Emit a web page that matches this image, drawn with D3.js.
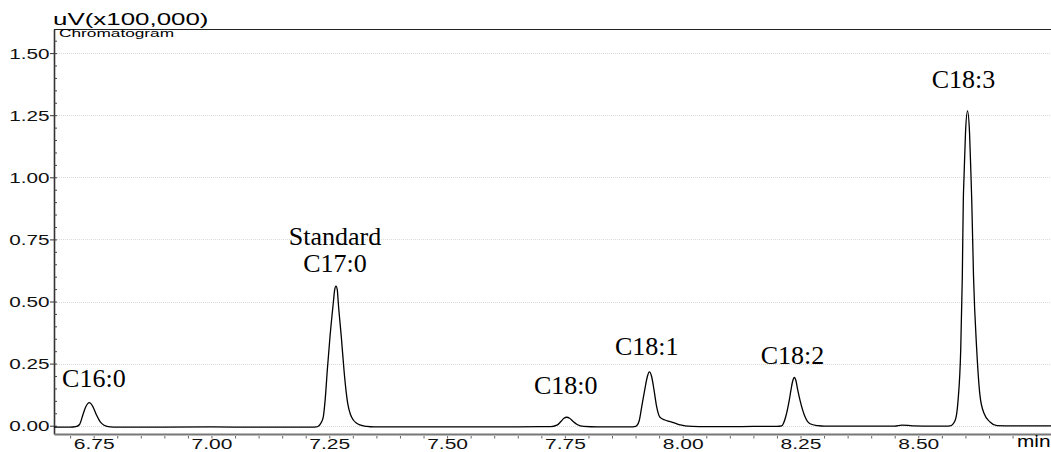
<!DOCTYPE html>
<html>
<head>
<meta charset="utf-8">
<title>Chromatogram</title>
<script src="https://d3js.org/d3.v7.min.js"></script>
<style>
  body { margin: 0; background: #fff; }
  svg { display: block; }
</style>
</head>
<body>
<svg id="chart" width="1051" height="452"></svg>
<script>
// retention time (min) and detector signal (uV x100,000)
var retTime = [
  6.666, 6.690, 6.700,
  6.712, 6.720, 6.727, 6.733, 6.7407, 6.748, 6.756, 6.764, 6.772, 6.785,
  6.800, 6.900, 7.000, 7.100, 7.200,
  7.215, 7.222, 7.2267, 7.232, 7.2373, 7.2415, 7.2458, 7.2515, 7.2585, 7.2615, 7.2642, 7.267, 7.2691,
  7.2755, 7.2812, 7.285, 7.289, 7.295, 7.301, 7.308, 7.315, 7.330, 7.345,
  7.400, 7.500, 7.600, 7.700,
  7.720, 7.733, 7.742, 7.748, 7.754, 7.760, 7.767, 7.776, 7.790,
  7.820, 7.860, 7.890,
  7.8975, 7.9024, 7.908, 7.913, 7.9194, 7.9249, 7.9291, 7.9342, 7.9391, 7.9448, 7.9518, 7.9624, 7.972,
  7.9836, 7.995, 8.005, 8.020,
  8.050, 8.100, 8.150, 8.200,
  8.2101, 8.214, 8.2186, 8.2262, 8.2298, 8.2335, 8.2368, 8.2405, 8.2441, 8.2489, 8.2596, 8.2702, 8.287, 8.300,
  8.350, 8.400, 8.450, 8.465, 8.478, 8.490, 8.530, 8.560,
  8.5673, 8.5779, 8.5843, 8.5900, 8.5934, 8.5955, 8.5970, 8.6002, 8.6044, 8.6087, 8.6119, 8.6134,
  8.6172, 8.6240, 8.6310, 8.6394, 8.6522, 8.6670, 8.700, 8.740, 8.7816
];
var signal = [
  -0.006, -0.006, -0.006,
  -0.004, 0.005, 0.043, 0.075, 0.0926, 0.078, 0.043, 0.015, 0.002, -0.005,
  -0.006, -0.006, -0.005, -0.006, -0.006,
  -0.006, -0.005, -0.002, 0.010, 0.036, 0.110, 0.224, 0.358, 0.494, 0.548, 0.562, 0.547, 0.494,
  0.358, 0.224, 0.150, 0.091, 0.045, 0.023, 0.010, 0.003, -0.003, -0.005,
  -0.005, -0.005, -0.005, -0.004,
  -0.004, 0.002, 0.018, 0.030, 0.034, 0.030, 0.018, 0.005, -0.003,
  -0.005, -0.005, -0.005,
  -0.004, 0.000, 0.022, 0.076, 0.144, 0.197, 0.217, 0.197, 0.144, 0.076, 0.034, 0.023, 0.017,
  0.010, 0.003, -0.001, -0.003,
  -0.004, -0.004, -0.003, -0.003,
  -0.001, 0.010, 0.036, 0.103, 0.144, 0.180, 0.194, 0.180, 0.144, 0.103, 0.036, 0.008, 0.000, -0.002,
  -0.002, -0.002, -0.002, 0.002, 0.001, -0.001, -0.002, -0.002,
  -0.001, 0.020, 0.100, 0.305, 0.600, 0.908, 1.000, 1.180, 1.267, 1.180, 1.000, 0.908,
  0.600, 0.305, 0.120, 0.050, 0.015, 0.000, -0.001, -0.001, -0.001
];

var xTickValues = [6.75, 7.00, 7.25, 7.50, 7.75, 8.00, 8.25, 8.50];
var yTickValues = [0.00, 0.25, 0.50, 0.75, 1.00, 1.25, 1.50];

var peakNames = ["C16:0", "C17:0", "C18:0", "C18:1", "C18:2", "C18:3"];
var peakTimes = [6.7407, 7.2642, 7.752, 7.9291, 8.2368, 8.6044];
var peakHeights = [0.0926, 0.562, 0.034, 0.217, 0.194, 1.267];

// label nudges (px) relative to each peak apex
var labelNudge = [[4.6, -16], [-1, -14], [0, -23], [-2.6, -16.7], [-1.8, -13.5], [-4, -22.7]];

var plotLeft = 54, plotRight = 1051, plotTop = 29, plotBottom = 434;

var svg = d3.select("#chart");

var x = d3.scaleLinear().domain([6.6658, 8.7816]).range([plotLeft, plotRight]);
var y = d3.scaleLinear().domain([-0.0334, 1.597]).range([plotBottom, plotTop]);

var sans = "'Liberation Sans', Arial, sans-serif";
var serif = "'Liberation Serif', 'Times New Roman', serif";

// grid lines
svg.append("g")
  .selectAll("line")
  .data(yTickValues)
  .enter().append("line")
  .attr("x1", plotLeft + 1).attr("x2", plotRight)
  .attr("y1", function(d) { return Math.round(y(d)) + 0.5; })
  .attr("y2", function(d) { return Math.round(y(d)) + 0.5; })
  .attr("stroke", "#dadada")
  .attr("stroke-dasharray", "1,1");

// top frame
svg.append("line")
  .attr("x1", plotLeft).attr("x2", plotRight)
  .attr("y1", plotTop + 0.5).attr("y2", plotTop + 0.5)
  .attr("stroke", "#222");

// y axis: labelled major ticks outside, minor ticks inside
var yAxis = svg.append("g")
  .attr("transform", "translate(" + plotLeft + ",0)")
  .call(d3.axisLeft(y).tickValues(yTickValues).tickSize(4).tickSizeOuter(0)
    .tickFormat(d3.format(".2f")));
yAxis.select(".domain").attr("stroke", "#333").attr("stroke-width", 1.6);
yAxis.selectAll(".tick line").attr("stroke", "#333");
yAxis.selectAll("text")
  .attr("font-family", sans).attr("font-size", 14).attr("fill", "#111")
  .attr("transform", "scale(1.48,1)")
  .attr("x", -4.5 / 1.48).attr("dy", "0.36em");

svg.append("g")
  .attr("transform", "translate(" + plotLeft + ",0)")
  .call(d3.axisRight(y).tickValues(d3.range(0, 32).map(function(i) { return i * 0.05; }))
    .tickSize(3).tickSizeOuter(0).tickFormat(""))
  .call(function(g) { g.select(".domain").remove(); })
  .selectAll("line").attr("stroke", "#444");

// x axis
var xAxis = svg.append("g")
  .attr("transform", "translate(0," + plotBottom + ")")
  .call(d3.axisBottom(x).tickValues(xTickValues).tickSize(0).tickSizeOuter(0)
    .tickFormat(d3.format(".2f")));
xAxis.select(".domain").attr("stroke", "#777").attr("stroke-width", 1.8);
xAxis.selectAll("text")
  .attr("font-family", sans).attr("font-size", 14.5).attr("fill", "#111")
  .attr("transform", "scale(1.45,1)")
  .attr("y", 15).attr("dy", 0);

svg.append("g")
  .attr("transform", "translate(0," + (plotBottom + 2) + ")")
  .call(d3.axisBottom(x).tickValues(d3.range(134, 176).map(function(i) { return i * 0.05; }))
    .tickSize(2.5).tickSizeOuter(0).tickFormat(""))
  .call(function(g) { g.select(".domain").remove(); })
  .selectAll("line").attr("stroke", "#666");

// trace
var line = d3.line()
  .x(function(d, i) { return x(retTime[i]); })
  .y(function(d) { return y(d); })
  .curve(d3.curveMonotoneX);

svg.append("path")
  .datum(signal)
  .attr("d", line)
  .attr("fill", "none")
  .attr("stroke", "#000")
  .attr("stroke-width", 1.3)
  .attr("stroke-linejoin", "round");

// header texts
svg.append("text")
  .attr("transform", "translate(53,25) scale(1.62,1)")
  .attr("font-family", sans).attr("font-size", 16).attr("fill", "#000")
  .text("uV(x100,000)");
svg.append("text")
  .attr("transform", "translate(59,37) scale(1.57,1)")
  .attr("font-family", sans).attr("font-size", 11).attr("fill", "#000")
  .text("Chromatogram");
svg.append("text")
  .attr("transform", "translate(1017,447) scale(1.3,1)")
  .attr("font-family", sans).attr("font-size", 16).attr("fill", "#000")
  .text("min");

// peak labels
var labels = svg.append("g")
  .attr("font-family", serif).attr("font-size", 26).attr("fill", "#000")
  .attr("text-anchor", "middle");
peakNames.forEach(function(name, i) {
  var lx = x(peakTimes[i]) + labelNudge[i][0];
  var ly = y(peakHeights[i]) + labelNudge[i][1];
  labels.append("text").attr("x", lx).attr("y", ly).text(name);
  if (name === "C17:0") {
    labels.append("text").attr("x", lx).attr("y", ly - 27).text("Standard");
  }
});
</script>
</body>
</html>
